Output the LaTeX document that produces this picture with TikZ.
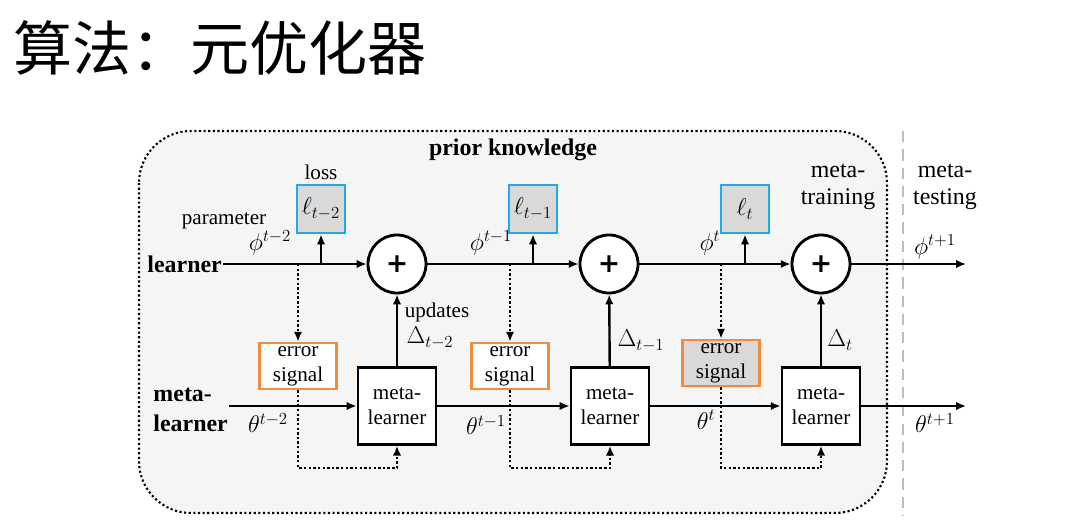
\documentclass[tikz,border=0pt]{standalone}
\usepackage{fontspec}
\setmainfont{Liberation Serif}
\newfontfamily\cjk{Noto Sans CJK SC}
\newfontfamily\plusfont{DejaVu Sans}
\usetikzlibrary{arrows.meta}
\definecolor{lossblue}{RGB}{25,170,240}
\definecolor{errorange}{RGB}{240,140,60}
\definecolor{boxgray}{RGB}{218,216,216}
\definecolor{bggray}{RGB}{245,245,245}
\definecolor{sepgray}{RGB}{190,190,190}

\begin{document}
\begin{tikzpicture}[x=0.025cm, y=-0.025cm, >={Latex[length=7pt,width=6pt]}, line width=1.7pt,
  plus/.style={draw, circle, fill=white, line width=2pt, minimum size=1.45cm, inner sep=0pt, font=\plusfont\fontsize{19}{19}\selectfont\bfseries},
  lossbox/.style={draw=lossblue, fill=boxgray, line width=2pt, minimum size=1.2cm, inner sep=0pt, font=\fontsize{17}{17}\selectfont},
  errbox/.style={draw=errorange, line width=2pt, minimum width=1.925cm, minimum height=1.15cm, inner sep=0pt, align=center, font=\fontsize{15}{17.7}\selectfont},
  metabox/.style={draw, fill=white, line width=2pt, minimum width=1.95cm, minimum height=1.92cm, inner sep=0pt, align=center, font=\fontsize{15}{18}\selectfont},
  txt/.style={inner sep=0pt, font=\fontsize{15}{17}\selectfont},
  bigtxt/.style={inner sep=0pt, align=center, font=\fontsize{17}{19}\selectfont},
  boldtxt/.style={inner sep=0pt, font=\fontsize{17}{21}\selectfont\bfseries},
  sym/.style={inner sep=0pt, font=\fontsize{17}{17}\selectfont},
  dotline/.style={line width=1.7pt, dash pattern=on 1.7pt off 1.6pt},
  frame/.style={draw, fill=bggray, line width=1.5pt, dash pattern=on 1.5pt off 1.8pt, rounded corners=1.3cm},
  sepline/.style={draw=sepgray, line width=1.8pt, dash pattern=on 8pt off 5pt}]
\useasboundingbox (0,0) rectangle (1077,528);

% title
\node[anchor=west, inner sep=0pt, font=\cjk\fontsize{42}{42}\selectfont] (title) at (12,48) {算法：元优化器};

% frame and separator
\draw[frame] (139,131) rectangle (887,513);
\draw[sepline] (903,131) -- (903,515);

\node[boldtxt] (prior) at (513,150) {prior knowledge};
\node[bigtxt] (train) at (838,187) {meta-\\training};
\node[bigtxt] (test) at (945,187) {meta-\\testing};

% learner row
\coordinate (lr) at (0,264);
\node[boldtxt, anchor=east] (lrn) at (223,264) {learner};
\node[plus] (p1) at (397,264) {+};
\node[plus] (p2) at (609,264) {+};
\node[plus] (p3) at (821,264) {+};
\coordinate (phiend) at (966,264);

\node[lossbox] (l1) at (321,209) {$\ell_{t-2}$};
\node[lossbox] (l2) at (533,209) {$\ell_{t-1}$};
\node[lossbox] (l3) at (745,209) {$\ell_t$};

% meta-learner row
\node[boldtxt, anchor=east, align=left] (mlrn) at (229,410) {meta-\\learner};
\node[metabox] (m1) at (397,406) {meta-\\learner};
\node[metabox] (m2) at (610,406) {meta-\\learner};
\node[metabox] (m3) at (821,406) {meta-\\learner};
\coordinate (thetaend) at (966,406);

\node[errbox, fill=white] (e1) at (298,366) {error\\signal};
\node[errbox, fill=white] (e2) at (510,366) {error\\signal};
\node[errbox, fill=boxgray] (e3) at (721,363) {error\\signal};
\coordinate (low) at (0,468);

% labels
\node[txt] (losslab) at (321,172) {loss};
\node[txt] (paramlab) at (224,221) {parameter};
\node[txt] (updlab) at (437,312) {updates};

\node[sym] (phi1) at (270,243) {$\phi^{t-2}$};
\node[sym] (phi2) at (491,243) {$\phi^{t-1}$};
\node[sym] (phi3) at (710,243) {$\phi^{t}$};
\node[sym] (phi4) at (935,247) {$\phi^{t+1}$};
\node[sym] (d1) at (430,338) {$\Delta_{t-2}$};
\node[sym] (d2) at (641,341) {$\Delta_{t-1}$};
\node[sym] (d3) at (840,340) {$\Delta_{t}$};
\node[sym] (th1) at (268,423) {$\theta^{t-2}$};
\node[sym] (th2) at (486,425) {$\theta^{t-1}$};
\node[sym] (th3) at (706,420) {$\theta^{t}$};
\node[sym] (th4) at (935,423) {$\theta^{t+1}$};

% connectors
\draw[->] (lrn.east) -- (p1);
\draw[->] (p1) -- (p2);
\draw[->] (p2) -- (p3);
\draw[->] (p3) -- (phiend);
\draw[->] (mlrn.east |- m1) -- (m1);
\draw[->] (m1) -- (m2);
\draw[->] (m2) -- (m3);
\draw[->] (m3) -- (thetaend);
\draw[->] (m1) -- (p1);
\draw[->] (m2) -- (p2);
\draw[->] (m3) -- (p3);
\draw[->] (l1.south |- lr) -- (l1);
\draw[->] (l2.south |- lr) -- (l2);
\draw[->] (l3.south |- lr) -- (l3);

\draw[dotline, ->] (e1.north |- lr) -- (e1);
\draw[dotline, ->] (e2.north |- lr) -- (e2);
\draw[dotline, ->] (e3.north |- lr) -- (e3);
\draw[dotline, ->] (e1.south) |- (m1.south |- low) -- (m1.south);
\draw[dotline, ->] (e2.south) |- (m2.south |- low) -- (m2.south);
\draw[dotline, ->] (e3.south) |- (m3.south |- low) -- (m3.south);
\end{tikzpicture}
\end{document}
